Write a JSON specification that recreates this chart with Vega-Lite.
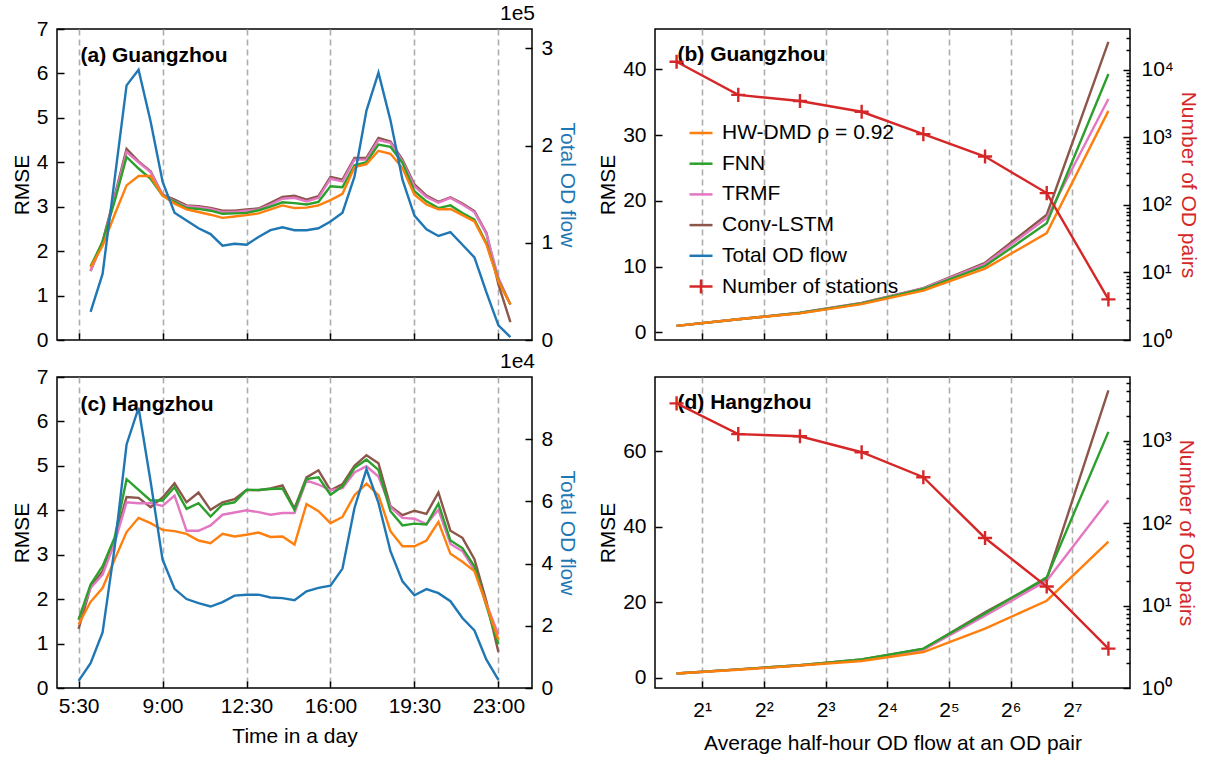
{
  "$schema": "https://vega.github.io/schema/vega-lite/v6.json",
  "background": "white",
  "padding": {"left": 10, "top": 2, "right": 5, "bottom": 5},
  "datasets": {
    "daily": [
      {"city":"GZ","series":"Conv-LSTM","time":6,"rmse":1.55},{"city":"GZ","series":"Conv-LSTM","time":6.5,"rmse":2.22},{"city":"GZ","series":"Conv-LSTM","time":7,"rmse":3.24},{"city":"GZ","series":"Conv-LSTM","time":7.5,"rmse":4.30},{"city":"GZ","series":"Conv-LSTM","time":8,"rmse":4.02},{"city":"GZ","series":"Conv-LSTM","time":8.5,"rmse":3.80},{"city":"GZ","series":"Conv-LSTM","time":9,"rmse":3.27},{"city":"GZ","series":"Conv-LSTM","time":9.5,"rmse":3.16},{"city":"GZ","series":"Conv-LSTM","time":10,"rmse":3.03},{"city":"GZ","series":"Conv-LSTM","time":10.5,"rmse":3.01},{"city":"GZ","series":"Conv-LSTM","time":11,"rmse":2.97},{"city":"GZ","series":"Conv-LSTM","time":11.5,"rmse":2.91},{"city":"GZ","series":"Conv-LSTM","time":12,"rmse":2.91},{"city":"GZ","series":"Conv-LSTM","time":12.5,"rmse":2.94},{"city":"GZ","series":"Conv-LSTM","time":13,"rmse":2.96},{"city":"GZ","series":"Conv-LSTM","time":13.5,"rmse":3.09},{"city":"GZ","series":"Conv-LSTM","time":14,"rmse":3.22},{"city":"GZ","series":"Conv-LSTM","time":14.5,"rmse":3.25},{"city":"GZ","series":"Conv-LSTM","time":15,"rmse":3.16},{"city":"GZ","series":"Conv-LSTM","time":15.5,"rmse":3.24},{"city":"GZ","series":"Conv-LSTM","time":16,"rmse":3.67},{"city":"GZ","series":"Conv-LSTM","time":16.5,"rmse":3.61},{"city":"GZ","series":"Conv-LSTM","time":17,"rmse":4.10},{"city":"GZ","series":"Conv-LSTM","time":17.5,"rmse":4.10},{"city":"GZ","series":"Conv-LSTM","time":18,"rmse":4.55},{"city":"GZ","series":"Conv-LSTM","time":18.5,"rmse":4.47},{"city":"GZ","series":"Conv-LSTM","time":19,"rmse":4.06},{"city":"GZ","series":"Conv-LSTM","time":19.5,"rmse":3.50},{"city":"GZ","series":"Conv-LSTM","time":20,"rmse":3.25},{"city":"GZ","series":"Conv-LSTM","time":20.5,"rmse":3.11},{"city":"GZ","series":"Conv-LSTM","time":21,"rmse":3.21},{"city":"GZ","series":"Conv-LSTM","time":21.5,"rmse":3.07},{"city":"GZ","series":"Conv-LSTM","time":22,"rmse":2.90},{"city":"GZ","series":"Conv-LSTM","time":22.5,"rmse":2.41},{"city":"GZ","series":"Conv-LSTM","time":23,"rmse":1.25},{"city":"GZ","series":"Conv-LSTM","time":23.5,"rmse":0.40},
      {"city":"GZ","series":"TRMF","time":6,"rmse":1.56},{"city":"GZ","series":"TRMF","time":6.5,"rmse":2.18},{"city":"GZ","series":"TRMF","time":7,"rmse":3.20},{"city":"GZ","series":"TRMF","time":7.5,"rmse":4.23},{"city":"GZ","series":"TRMF","time":8,"rmse":4.00},{"city":"GZ","series":"TRMF","time":8.5,"rmse":3.78},{"city":"GZ","series":"TRMF","time":9,"rmse":3.26},{"city":"GZ","series":"TRMF","time":9.5,"rmse":3.12},{"city":"GZ","series":"TRMF","time":10,"rmse":3.01},{"city":"GZ","series":"TRMF","time":10.5,"rmse":2.99},{"city":"GZ","series":"TRMF","time":11,"rmse":2.95},{"city":"GZ","series":"TRMF","time":11.5,"rmse":2.88},{"city":"GZ","series":"TRMF","time":12,"rmse":2.88},{"city":"GZ","series":"TRMF","time":12.5,"rmse":2.91},{"city":"GZ","series":"TRMF","time":13,"rmse":2.94},{"city":"GZ","series":"TRMF","time":13.5,"rmse":3.05},{"city":"GZ","series":"TRMF","time":14,"rmse":3.18},{"city":"GZ","series":"TRMF","time":14.5,"rmse":3.20},{"city":"GZ","series":"TRMF","time":15,"rmse":3.12},{"city":"GZ","series":"TRMF","time":15.5,"rmse":3.20},{"city":"GZ","series":"TRMF","time":16,"rmse":3.63},{"city":"GZ","series":"TRMF","time":16.5,"rmse":3.57},{"city":"GZ","series":"TRMF","time":17,"rmse":4.06},{"city":"GZ","series":"TRMF","time":17.5,"rmse":4.06},{"city":"GZ","series":"TRMF","time":18,"rmse":4.50},{"city":"GZ","series":"TRMF","time":18.5,"rmse":4.44},{"city":"GZ","series":"TRMF","time":19,"rmse":4.02},{"city":"GZ","series":"TRMF","time":19.5,"rmse":3.46},{"city":"GZ","series":"TRMF","time":20,"rmse":3.22},{"city":"GZ","series":"TRMF","time":20.5,"rmse":3.09},{"city":"GZ","series":"TRMF","time":21,"rmse":3.20},{"city":"GZ","series":"TRMF","time":21.5,"rmse":3.05},{"city":"GZ","series":"TRMF","time":22,"rmse":2.88},{"city":"GZ","series":"TRMF","time":22.5,"rmse":2.39},{"city":"GZ","series":"TRMF","time":23,"rmse":1.40},{"city":"GZ","series":"TRMF","time":23.5,"rmse":0.80},
      {"city":"GZ","series":"FNN","time":6,"rmse":1.66},{"city":"GZ","series":"FNN","time":6.5,"rmse":2.21},{"city":"GZ","series":"FNN","time":7,"rmse":3.12},{"city":"GZ","series":"FNN","time":7.5,"rmse":4.12},{"city":"GZ","series":"FNN","time":8,"rmse":3.86},{"city":"GZ","series":"FNN","time":8.5,"rmse":3.63},{"city":"GZ","series":"FNN","time":9,"rmse":3.25},{"city":"GZ","series":"FNN","time":9.5,"rmse":3.11},{"city":"GZ","series":"FNN","time":10,"rmse":2.97},{"city":"GZ","series":"FNN","time":10.5,"rmse":2.95},{"city":"GZ","series":"FNN","time":11,"rmse":2.91},{"city":"GZ","series":"FNN","time":11.5,"rmse":2.84},{"city":"GZ","series":"FNN","time":12,"rmse":2.85},{"city":"GZ","series":"FNN","time":12.5,"rmse":2.86},{"city":"GZ","series":"FNN","time":13,"rmse":2.92},{"city":"GZ","series":"FNN","time":13.5,"rmse":3.00},{"city":"GZ","series":"FNN","time":14,"rmse":3.10},{"city":"GZ","series":"FNN","time":14.5,"rmse":3.08},{"city":"GZ","series":"FNN","time":15,"rmse":3.05},{"city":"GZ","series":"FNN","time":15.5,"rmse":3.11},{"city":"GZ","series":"FNN","time":16,"rmse":3.46},{"city":"GZ","series":"FNN","time":16.5,"rmse":3.44},{"city":"GZ","series":"FNN","time":17,"rmse":3.93},{"city":"GZ","series":"FNN","time":17.5,"rmse":4.00},{"city":"GZ","series":"FNN","time":18,"rmse":4.40},{"city":"GZ","series":"FNN","time":18.5,"rmse":4.35},{"city":"GZ","series":"FNN","time":19,"rmse":3.99},{"city":"GZ","series":"FNN","time":19.5,"rmse":3.35},{"city":"GZ","series":"FNN","time":20,"rmse":3.12},{"city":"GZ","series":"FNN","time":20.5,"rmse":2.97},{"city":"GZ","series":"FNN","time":21,"rmse":3.03},{"city":"GZ","series":"FNN","time":21.5,"rmse":2.86},{"city":"GZ","series":"FNN","time":22,"rmse":2.71},{"city":"GZ","series":"FNN","time":22.5,"rmse":2.18},{"city":"GZ","series":"FNN","time":23,"rmse":1.34},{"city":"GZ","series":"FNN","time":23.5,"rmse":0.80},
      {"city":"GZ","series":"HW-DMD","time":6,"rmse":1.64},{"city":"GZ","series":"HW-DMD","time":6.5,"rmse":2.12},{"city":"GZ","series":"HW-DMD","time":7,"rmse":2.82},{"city":"GZ","series":"HW-DMD","time":7.5,"rmse":3.48},{"city":"GZ","series":"HW-DMD","time":8,"rmse":3.69},{"city":"GZ","series":"HW-DMD","time":8.5,"rmse":3.69},{"city":"GZ","series":"HW-DMD","time":9,"rmse":3.25},{"city":"GZ","series":"HW-DMD","time":9.5,"rmse":3.07},{"city":"GZ","series":"HW-DMD","time":10,"rmse":2.94},{"city":"GZ","series":"HW-DMD","time":10.5,"rmse":2.88},{"city":"GZ","series":"HW-DMD","time":11,"rmse":2.82},{"city":"GZ","series":"HW-DMD","time":11.5,"rmse":2.75},{"city":"GZ","series":"HW-DMD","time":12,"rmse":2.78},{"city":"GZ","series":"HW-DMD","time":12.5,"rmse":2.81},{"city":"GZ","series":"HW-DMD","time":13,"rmse":2.85},{"city":"GZ","series":"HW-DMD","time":13.5,"rmse":2.94},{"city":"GZ","series":"HW-DMD","time":14,"rmse":3.03},{"city":"GZ","series":"HW-DMD","time":14.5,"rmse":2.97},{"city":"GZ","series":"HW-DMD","time":15,"rmse":2.98},{"city":"GZ","series":"HW-DMD","time":15.5,"rmse":3.03},{"city":"GZ","series":"HW-DMD","time":16,"rmse":3.15},{"city":"GZ","series":"HW-DMD","time":16.5,"rmse":3.29},{"city":"GZ","series":"HW-DMD","time":17,"rmse":3.89},{"city":"GZ","series":"HW-DMD","time":17.5,"rmse":3.96},{"city":"GZ","series":"HW-DMD","time":18,"rmse":4.26},{"city":"GZ","series":"HW-DMD","time":18.5,"rmse":4.19},{"city":"GZ","series":"HW-DMD","time":19,"rmse":3.87},{"city":"GZ","series":"HW-DMD","time":19.5,"rmse":3.27},{"city":"GZ","series":"HW-DMD","time":20,"rmse":3.05},{"city":"GZ","series":"HW-DMD","time":20.5,"rmse":2.94},{"city":"GZ","series":"HW-DMD","time":21,"rmse":2.95},{"city":"GZ","series":"HW-DMD","time":21.5,"rmse":2.81},{"city":"GZ","series":"HW-DMD","time":22,"rmse":2.67},{"city":"GZ","series":"HW-DMD","time":22.5,"rmse":2.15},{"city":"GZ","series":"HW-DMD","time":23,"rmse":1.32},{"city":"GZ","series":"HW-DMD","time":23.5,"rmse":0.80},
      {"city":"HZ","series":"Conv-LSTM","time":5.5,"rmse":1.33},{"city":"HZ","series":"Conv-LSTM","time":6,"rmse":2.27},{"city":"HZ","series":"Conv-LSTM","time":6.5,"rmse":2.63},{"city":"HZ","series":"Conv-LSTM","time":7,"rmse":3.34},{"city":"HZ","series":"Conv-LSTM","time":7.5,"rmse":4.30},{"city":"HZ","series":"Conv-LSTM","time":8,"rmse":4.28},{"city":"HZ","series":"Conv-LSTM","time":8.5,"rmse":4.07},{"city":"HZ","series":"Conv-LSTM","time":9,"rmse":4.29},{"city":"HZ","series":"Conv-LSTM","time":9.5,"rmse":4.61},{"city":"HZ","series":"Conv-LSTM","time":10,"rmse":4.18},{"city":"HZ","series":"Conv-LSTM","time":10.5,"rmse":4.40},{"city":"HZ","series":"Conv-LSTM","time":11,"rmse":4.01},{"city":"HZ","series":"Conv-LSTM","time":11.5,"rmse":4.18},{"city":"HZ","series":"Conv-LSTM","time":12,"rmse":4.25},{"city":"HZ","series":"Conv-LSTM","time":12.5,"rmse":4.46},{"city":"HZ","series":"Conv-LSTM","time":13,"rmse":4.45},{"city":"HZ","series":"Conv-LSTM","time":13.5,"rmse":4.49},{"city":"HZ","series":"Conv-LSTM","time":14,"rmse":4.56},{"city":"HZ","series":"Conv-LSTM","time":14.5,"rmse":4.04},{"city":"HZ","series":"Conv-LSTM","time":15,"rmse":4.74},{"city":"HZ","series":"Conv-LSTM","time":15.5,"rmse":4.90},{"city":"HZ","series":"Conv-LSTM","time":16,"rmse":4.45},{"city":"HZ","series":"Conv-LSTM","time":16.5,"rmse":4.59},{"city":"HZ","series":"Conv-LSTM","time":17,"rmse":5.00},{"city":"HZ","series":"Conv-LSTM","time":17.5,"rmse":5.24},{"city":"HZ","series":"Conv-LSTM","time":18,"rmse":5.06},{"city":"HZ","series":"Conv-LSTM","time":18.5,"rmse":4.09},{"city":"HZ","series":"Conv-LSTM","time":19,"rmse":3.89},{"city":"HZ","series":"Conv-LSTM","time":19.5,"rmse":3.99},{"city":"HZ","series":"Conv-LSTM","time":20,"rmse":3.92},{"city":"HZ","series":"Conv-LSTM","time":20.5,"rmse":4.40},{"city":"HZ","series":"Conv-LSTM","time":21,"rmse":3.54},{"city":"HZ","series":"Conv-LSTM","time":21.5,"rmse":3.38},{"city":"HZ","series":"Conv-LSTM","time":22,"rmse":2.90},{"city":"HZ","series":"Conv-LSTM","time":22.5,"rmse":1.95},{"city":"HZ","series":"Conv-LSTM","time":23,"rmse":0.81},
      {"city":"HZ","series":"TRMF","time":5.5,"rmse":1.54},{"city":"HZ","series":"TRMF","time":6,"rmse":2.25},{"city":"HZ","series":"TRMF","time":6.5,"rmse":2.55},{"city":"HZ","series":"TRMF","time":7,"rmse":3.26},{"city":"HZ","series":"TRMF","time":7.5,"rmse":4.18},{"city":"HZ","series":"TRMF","time":8,"rmse":4.16},{"city":"HZ","series":"TRMF","time":8.5,"rmse":4.16},{"city":"HZ","series":"TRMF","time":9,"rmse":4.10},{"city":"HZ","series":"TRMF","time":9.5,"rmse":4.33},{"city":"HZ","series":"TRMF","time":10,"rmse":3.54},{"city":"HZ","series":"TRMF","time":10.5,"rmse":3.54},{"city":"HZ","series":"TRMF","time":11,"rmse":3.66},{"city":"HZ","series":"TRMF","time":11.5,"rmse":3.90},{"city":"HZ","series":"TRMF","time":12,"rmse":3.95},{"city":"HZ","series":"TRMF","time":12.5,"rmse":4.00},{"city":"HZ","series":"TRMF","time":13,"rmse":3.96},{"city":"HZ","series":"TRMF","time":13.5,"rmse":3.90},{"city":"HZ","series":"TRMF","time":14,"rmse":3.94},{"city":"HZ","series":"TRMF","time":14.5,"rmse":3.94},{"city":"HZ","series":"TRMF","time":15,"rmse":4.67},{"city":"HZ","series":"TRMF","time":15.5,"rmse":4.58},{"city":"HZ","series":"TRMF","time":16,"rmse":4.45},{"city":"HZ","series":"TRMF","time":16.5,"rmse":4.50},{"city":"HZ","series":"TRMF","time":17,"rmse":4.85},{"city":"HZ","series":"TRMF","time":17.5,"rmse":4.99},{"city":"HZ","series":"TRMF","time":18,"rmse":4.76},{"city":"HZ","series":"TRMF","time":18.5,"rmse":4.07},{"city":"HZ","series":"TRMF","time":19,"rmse":3.83},{"city":"HZ","series":"TRMF","time":19.5,"rmse":3.81},{"city":"HZ","series":"TRMF","time":20,"rmse":3.69},{"city":"HZ","series":"TRMF","time":20.5,"rmse":4.01},{"city":"HZ","series":"TRMF","time":21,"rmse":3.24},{"city":"HZ","series":"TRMF","time":21.5,"rmse":3.08},{"city":"HZ","series":"TRMF","time":22,"rmse":2.66},{"city":"HZ","series":"TRMF","time":22.5,"rmse":1.90},{"city":"HZ","series":"TRMF","time":23,"rmse":1.20},
      {"city":"HZ","series":"FNN","time":5.5,"rmse":1.54},{"city":"HZ","series":"FNN","time":6,"rmse":2.33},{"city":"HZ","series":"FNN","time":6.5,"rmse":2.74},{"city":"HZ","series":"FNN","time":7,"rmse":3.38},{"city":"HZ","series":"FNN","time":7.5,"rmse":4.70},{"city":"HZ","series":"FNN","time":8,"rmse":4.46},{"city":"HZ","series":"FNN","time":8.5,"rmse":4.22},{"city":"HZ","series":"FNN","time":9,"rmse":4.22},{"city":"HZ","series":"FNN","time":9.5,"rmse":4.52},{"city":"HZ","series":"FNN","time":10,"rmse":4.03},{"city":"HZ","series":"FNN","time":10.5,"rmse":4.16},{"city":"HZ","series":"FNN","time":11,"rmse":3.86},{"city":"HZ","series":"FNN","time":11.5,"rmse":4.13},{"city":"HZ","series":"FNN","time":12,"rmse":4.18},{"city":"HZ","series":"FNN","time":12.5,"rmse":4.46},{"city":"HZ","series":"FNN","time":13,"rmse":4.46},{"city":"HZ","series":"FNN","time":13.5,"rmse":4.48},{"city":"HZ","series":"FNN","time":14,"rmse":4.49},{"city":"HZ","series":"FNN","time":14.5,"rmse":4.01},{"city":"HZ","series":"FNN","time":15,"rmse":4.70},{"city":"HZ","series":"FNN","time":15.5,"rmse":4.74},{"city":"HZ","series":"FNN","time":16,"rmse":4.35},{"city":"HZ","series":"FNN","time":16.5,"rmse":4.54},{"city":"HZ","series":"FNN","time":17,"rmse":4.95},{"city":"HZ","series":"FNN","time":17.5,"rmse":5.14},{"city":"HZ","series":"FNN","time":18,"rmse":4.91},{"city":"HZ","series":"FNN","time":18.5,"rmse":3.98},{"city":"HZ","series":"FNN","time":19,"rmse":3.66},{"city":"HZ","series":"FNN","time":19.5,"rmse":3.70},{"city":"HZ","series":"FNN","time":20,"rmse":3.68},{"city":"HZ","series":"FNN","time":20.5,"rmse":4.15},{"city":"HZ","series":"FNN","time":21,"rmse":3.32},{"city":"HZ","series":"FNN","time":21.5,"rmse":3.15},{"city":"HZ","series":"FNN","time":22,"rmse":2.74},{"city":"HZ","series":"FNN","time":22.5,"rmse":1.85},{"city":"HZ","series":"FNN","time":23,"rmse":0.98},
      {"city":"HZ","series":"HW-DMD","time":5.5,"rmse":1.43},{"city":"HZ","series":"HW-DMD","time":6,"rmse":1.94},{"city":"HZ","series":"HW-DMD","time":6.5,"rmse":2.25},{"city":"HZ","series":"HW-DMD","time":7,"rmse":2.89},{"city":"HZ","series":"HW-DMD","time":7.5,"rmse":3.51},{"city":"HZ","series":"HW-DMD","time":8,"rmse":3.83},{"city":"HZ","series":"HW-DMD","time":8.5,"rmse":3.71},{"city":"HZ","series":"HW-DMD","time":9,"rmse":3.56},{"city":"HZ","series":"HW-DMD","time":9.5,"rmse":3.53},{"city":"HZ","series":"HW-DMD","time":10,"rmse":3.47},{"city":"HZ","series":"HW-DMD","time":10.5,"rmse":3.32},{"city":"HZ","series":"HW-DMD","time":11,"rmse":3.26},{"city":"HZ","series":"HW-DMD","time":11.5,"rmse":3.47},{"city":"HZ","series":"HW-DMD","time":12,"rmse":3.41},{"city":"HZ","series":"HW-DMD","time":12.5,"rmse":3.45},{"city":"HZ","series":"HW-DMD","time":13,"rmse":3.50},{"city":"HZ","series":"HW-DMD","time":13.5,"rmse":3.40},{"city":"HZ","series":"HW-DMD","time":14,"rmse":3.41},{"city":"HZ","series":"HW-DMD","time":14.5,"rmse":3.23},{"city":"HZ","series":"HW-DMD","time":15,"rmse":4.14},{"city":"HZ","series":"HW-DMD","time":15.5,"rmse":3.98},{"city":"HZ","series":"HW-DMD","time":16,"rmse":3.71},{"city":"HZ","series":"HW-DMD","time":16.5,"rmse":3.85},{"city":"HZ","series":"HW-DMD","time":17,"rmse":4.34},{"city":"HZ","series":"HW-DMD","time":17.5,"rmse":4.60},{"city":"HZ","series":"HW-DMD","time":18,"rmse":4.34},{"city":"HZ","series":"HW-DMD","time":18.5,"rmse":3.53},{"city":"HZ","series":"HW-DMD","time":19,"rmse":3.19},{"city":"HZ","series":"HW-DMD","time":19.5,"rmse":3.19},{"city":"HZ","series":"HW-DMD","time":20,"rmse":3.32},{"city":"HZ","series":"HW-DMD","time":20.5,"rmse":3.74},{"city":"HZ","series":"HW-DMD","time":21,"rmse":3.02},{"city":"HZ","series":"HW-DMD","time":21.5,"rmse":2.84},{"city":"HZ","series":"HW-DMD","time":22,"rmse":2.63},{"city":"HZ","series":"HW-DMD","time":22.5,"rmse":1.88},{"city":"HZ","series":"HW-DMD","time":23,"rmse":1.09}
    ],
    "flow": [
      {"city":"GZ","series":"Total OD flow","time":6,"flow":29000},{"city":"GZ","series":"Total OD flow","time":6.5,"flow":68000},{"city":"GZ","series":"Total OD flow","time":7,"flow":165000},{"city":"GZ","series":"Total OD flow","time":7.5,"flow":262000},{"city":"GZ","series":"Total OD flow","time":8,"flow":278000},{"city":"GZ","series":"Total OD flow","time":8.5,"flow":225000},{"city":"GZ","series":"Total OD flow","time":9,"flow":163000},{"city":"GZ","series":"Total OD flow","time":9.5,"flow":131000},{"city":"GZ","series":"Total OD flow","time":10,"flow":123000},{"city":"GZ","series":"Total OD flow","time":10.5,"flow":115000},{"city":"GZ","series":"Total OD flow","time":11,"flow":109000},{"city":"GZ","series":"Total OD flow","time":11.5,"flow":97000},{"city":"GZ","series":"Total OD flow","time":12,"flow":99000},{"city":"GZ","series":"Total OD flow","time":12.5,"flow":98000},{"city":"GZ","series":"Total OD flow","time":13,"flow":106000},{"city":"GZ","series":"Total OD flow","time":13.5,"flow":113000},{"city":"GZ","series":"Total OD flow","time":14,"flow":116000},{"city":"GZ","series":"Total OD flow","time":14.5,"flow":113000},{"city":"GZ","series":"Total OD flow","time":15,"flow":113000},{"city":"GZ","series":"Total OD flow","time":15.5,"flow":115000},{"city":"GZ","series":"Total OD flow","time":16,"flow":122000},{"city":"GZ","series":"Total OD flow","time":16.5,"flow":131000},{"city":"GZ","series":"Total OD flow","time":17,"flow":168000},{"city":"GZ","series":"Total OD flow","time":17.5,"flow":236000},{"city":"GZ","series":"Total OD flow","time":18,"flow":275000},{"city":"GZ","series":"Total OD flow","time":18.5,"flow":226000},{"city":"GZ","series":"Total OD flow","time":19,"flow":165000},{"city":"GZ","series":"Total OD flow","time":19.5,"flow":128000},{"city":"GZ","series":"Total OD flow","time":20,"flow":114000},{"city":"GZ","series":"Total OD flow","time":20.5,"flow":107000},{"city":"GZ","series":"Total OD flow","time":21,"flow":111000},{"city":"GZ","series":"Total OD flow","time":21.5,"flow":98000},{"city":"GZ","series":"Total OD flow","time":22,"flow":85000},{"city":"GZ","series":"Total OD flow","time":22.5,"flow":49000},{"city":"GZ","series":"Total OD flow","time":23,"flow":15000},{"city":"GZ","series":"Total OD flow","time":23.5,"flow":3000},
      {"city":"HZ","series":"Total OD flow","time":5.5,"flow":2300},{"city":"HZ","series":"Total OD flow","time":6,"flow":8000},{"city":"HZ","series":"Total OD flow","time":6.5,"flow":17900},{"city":"HZ","series":"Total OD flow","time":7,"flow":45000},{"city":"HZ","series":"Total OD flow","time":7.5,"flow":78300},{"city":"HZ","series":"Total OD flow","time":8,"flow":90100},{"city":"HZ","series":"Total OD flow","time":8.5,"flow":66500},{"city":"HZ","series":"Total OD flow","time":9,"flow":41300},{"city":"HZ","series":"Total OD flow","time":9.5,"flow":31900},{"city":"HZ","series":"Total OD flow","time":10,"flow":28600},{"city":"HZ","series":"Total OD flow","time":10.5,"flow":27300},{"city":"HZ","series":"Total OD flow","time":11,"flow":26200},{"city":"HZ","series":"Total OD flow","time":11.5,"flow":27600},{"city":"HZ","series":"Total OD flow","time":12,"flow":29700},{"city":"HZ","series":"Total OD flow","time":12.5,"flow":30000},{"city":"HZ","series":"Total OD flow","time":13,"flow":30000},{"city":"HZ","series":"Total OD flow","time":13.5,"flow":29100},{"city":"HZ","series":"Total OD flow","time":14,"flow":28900},{"city":"HZ","series":"Total OD flow","time":14.5,"flow":28200},{"city":"HZ","series":"Total OD flow","time":15,"flow":31100},{"city":"HZ","series":"Total OD flow","time":15.5,"flow":32200},{"city":"HZ","series":"Total OD flow","time":16,"flow":32900},{"city":"HZ","series":"Total OD flow","time":16.5,"flow":38400},{"city":"HZ","series":"Total OD flow","time":17,"flow":57900},{"city":"HZ","series":"Total OD flow","time":17.5,"flow":70300},{"city":"HZ","series":"Total OD flow","time":18,"flow":59500},{"city":"HZ","series":"Total OD flow","time":18.5,"flow":44000},{"city":"HZ","series":"Total OD flow","time":19,"flow":34300},{"city":"HZ","series":"Total OD flow","time":19.5,"flow":29800},{"city":"HZ","series":"Total OD flow","time":20,"flow":31800},{"city":"HZ","series":"Total OD flow","time":20.5,"flow":30500},{"city":"HZ","series":"Total OD flow","time":21,"flow":27900},{"city":"HZ","series":"Total OD flow","time":21.5,"flow":22500},{"city":"HZ","series":"Total OD flow","time":22,"flow":18500},{"city":"HZ","series":"Total OD flow","time":22.5,"flow":9100},{"city":"HZ","series":"Total OD flow","time":23,"flow":2600}
    ],
    "bins": [
      {"city":"GZ","series":"Conv-LSTM","avgFlow":1.5,"rmse":1.0},{"city":"GZ","series":"Conv-LSTM","avgFlow":3,"rmse":2.0},{"city":"GZ","series":"Conv-LSTM","avgFlow":6,"rmse":3.0},{"city":"GZ","series":"Conv-LSTM","avgFlow":12,"rmse":4.5},{"city":"GZ","series":"Conv-LSTM","avgFlow":24,"rmse":6.75},{"city":"GZ","series":"Conv-LSTM","avgFlow":48,"rmse":10.6},{"city":"GZ","series":"Conv-LSTM","avgFlow":96,"rmse":17.9},{"city":"GZ","series":"Conv-LSTM","avgFlow":192,"rmse":44.2},
      {"city":"GZ","series":"TRMF","avgFlow":1.5,"rmse":1.0},{"city":"GZ","series":"TRMF","avgFlow":3,"rmse":2.0},{"city":"GZ","series":"TRMF","avgFlow":6,"rmse":2.95},{"city":"GZ","series":"TRMF","avgFlow":12,"rmse":4.45},{"city":"GZ","series":"TRMF","avgFlow":24,"rmse":6.7},{"city":"GZ","series":"TRMF","avgFlow":48,"rmse":10.4},{"city":"GZ","series":"TRMF","avgFlow":96,"rmse":17.4},{"city":"GZ","series":"TRMF","avgFlow":192,"rmse":35.5},
      {"city":"GZ","series":"FNN","avgFlow":1.5,"rmse":1.0},{"city":"GZ","series":"FNN","avgFlow":3,"rmse":2.0},{"city":"GZ","series":"FNN","avgFlow":6,"rmse":2.95},{"city":"GZ","series":"FNN","avgFlow":12,"rmse":4.4},{"city":"GZ","series":"FNN","avgFlow":24,"rmse":6.6},{"city":"GZ","series":"FNN","avgFlow":48,"rmse":10.1},{"city":"GZ","series":"FNN","avgFlow":96,"rmse":16.6},{"city":"GZ","series":"FNN","avgFlow":192,"rmse":39.3},
      {"city":"GZ","series":"HW-DMD","avgFlow":1.5,"rmse":1.0},{"city":"GZ","series":"HW-DMD","avgFlow":3,"rmse":2.0},{"city":"GZ","series":"HW-DMD","avgFlow":6,"rmse":2.9},{"city":"GZ","series":"HW-DMD","avgFlow":12,"rmse":4.3},{"city":"GZ","series":"HW-DMD","avgFlow":24,"rmse":6.35},{"city":"GZ","series":"HW-DMD","avgFlow":48,"rmse":9.7},{"city":"GZ","series":"HW-DMD","avgFlow":96,"rmse":15.1},{"city":"GZ","series":"HW-DMD","avgFlow":192,"rmse":33.7},
      {"city":"HZ","series":"Conv-LSTM","avgFlow":1.5,"rmse":1.1},{"city":"HZ","series":"Conv-LSTM","avgFlow":3,"rmse":2.2},{"city":"HZ","series":"Conv-LSTM","avgFlow":6,"rmse":3.3},{"city":"HZ","series":"Conv-LSTM","avgFlow":12,"rmse":4.8},{"city":"HZ","series":"Conv-LSTM","avgFlow":24,"rmse":7.6},{"city":"HZ","series":"Conv-LSTM","avgFlow":48,"rmse":17.3},{"city":"HZ","series":"Conv-LSTM","avgFlow":96,"rmse":26.2},{"city":"HZ","series":"Conv-LSTM","avgFlow":192,"rmse":76.2},
      {"city":"HZ","series":"TRMF","avgFlow":1.5,"rmse":1.1},{"city":"HZ","series":"TRMF","avgFlow":3,"rmse":2.2},{"city":"HZ","series":"TRMF","avgFlow":6,"rmse":3.3},{"city":"HZ","series":"TRMF","avgFlow":12,"rmse":4.7},{"city":"HZ","series":"TRMF","avgFlow":24,"rmse":7.4},{"city":"HZ","series":"TRMF","avgFlow":48,"rmse":16.4},{"city":"HZ","series":"TRMF","avgFlow":96,"rmse":25.7},{"city":"HZ","series":"TRMF","avgFlow":192,"rmse":47.0},
      {"city":"HZ","series":"FNN","avgFlow":1.5,"rmse":1.1},{"city":"HZ","series":"FNN","avgFlow":3,"rmse":2.2},{"city":"HZ","series":"FNN","avgFlow":6,"rmse":3.3},{"city":"HZ","series":"FNN","avgFlow":12,"rmse":4.8},{"city":"HZ","series":"FNN","avgFlow":24,"rmse":7.7},{"city":"HZ","series":"FNN","avgFlow":48,"rmse":17.0},{"city":"HZ","series":"FNN","avgFlow":96,"rmse":26.6},{"city":"HZ","series":"FNN","avgFlow":192,"rmse":65.2},
      {"city":"HZ","series":"HW-DMD","avgFlow":1.5,"rmse":1.1},{"city":"HZ","series":"HW-DMD","avgFlow":3,"rmse":2.1},{"city":"HZ","series":"HW-DMD","avgFlow":6,"rmse":3.2},{"city":"HZ","series":"HW-DMD","avgFlow":12,"rmse":4.4},{"city":"HZ","series":"HW-DMD","avgFlow":24,"rmse":6.8},{"city":"HZ","series":"HW-DMD","avgFlow":48,"rmse":13.0},{"city":"HZ","series":"HW-DMD","avgFlow":96,"rmse":20.4},{"city":"HZ","series":"HW-DMD","avgFlow":192,"rmse":36.1}
    ],
    "pairs": [
      {"city":"GZ","series":"Number of stations","avgFlow":1.5,"pairs":13200},{"city":"GZ","series":"Number of stations","avgFlow":3,"pairs":4270},{"city":"GZ","series":"Number of stations","avgFlow":6,"pairs":3470},{"city":"GZ","series":"Number of stations","avgFlow":12,"pairs":2400},{"city":"GZ","series":"Number of stations","avgFlow":24,"pairs":1120},{"city":"GZ","series":"Number of stations","avgFlow":48,"pairs":522},{"city":"GZ","series":"Number of stations","avgFlow":96,"pairs":150},{"city":"GZ","series":"Number of stations","avgFlow":192,"pairs":4},
      {"city":"HZ","series":"Number of stations","avgFlow":1.5,"pairs":2830},{"city":"HZ","series":"Number of stations","avgFlow":3,"pairs":1200},{"city":"HZ","series":"Number of stations","avgFlow":6,"pairs":1130},{"city":"HZ","series":"Number of stations","avgFlow":12,"pairs":724},{"city":"HZ","series":"Number of stations","avgFlow":24,"pairs":360},{"city":"HZ","series":"Number of stations","avgFlow":48,"pairs":66},{"city":"HZ","series":"Number of stations","avgFlow":96,"pairs":17},{"city":"HZ","series":"Number of stations","avgFlow":192,"pairs":3}
    ]
  },
  "columns": 2,
  "spacing": {"row": 37, "column": 123},
  "bounds": "flush",
  "resolve": {"scale": {"color": "shared"}, "legend": {"color": "shared"}},
  "concat": [
    {
      "width": 475, "height": 311,
      "title": {"text": "1e5", "anchor": "end", "frame": "group", "dx": 3, "offset": -6},
      "layer": [
        {
          "data": {"name": "daily"},
          "transform": [{"filter": "datum.city === 'GZ'"}],
          "mark": {"type": "line", "strokeWidth": 2.4},
          "encoding": {
            "x": {"field": "time", "type": "quantitative", "scale": {"domain": [4.6, 24.4], "nice": false, "zero": false},
                  "axis": {"values": [5.5, 9, 12.5, 16, 19.5, 23], "labels": false, "title": null, "grid": true, "gridDash": [6, 4], "gridColor": "#adadad", "gridWidth": 1.6}},
            "y": {"field": "rmse", "type": "quantitative", "scale": {"domain": [0, 7], "nice": false}, "axis": {"values": [0, 1, 2, 3, 4, 5, 6, 7], "title": "RMSE"}},
            "color": {"field": "series", "type": "nominal",
              "scale": {"domain": ["HW-DMD", "FNN", "TRMF", "Conv-LSTM", "Total OD flow", "Number of stations"], "range": ["#ff7f0e", "#2ca02c", "#e377c2", "#8c564b", "#1f77b4", "#d62728"]},
              "legend": {"orient": "none", "legendX": 631, "legendY": 91, "title": null, "padding": 0, "labelFontSize": 21, "labelFont": "Liberation Sans", "labelColor": "#000", "labelLimit": 400, "symbolType": "stroke", "symbolSize": 529, "symbolStrokeWidth": 2.5, "rowPadding": 7.7, "labelOffset": 8,
                "labelExpr": "datum.label === 'HW-DMD' ? 'HW-DMD ρ = 0.92' : datum.label",
                "encode": {"symbols": {"update": {"shape": {"signal": "datum.value === 'Number of stations' ? 'M-1,0L1,0M0,-0.6L0,0.6' : 'stroke'"}, "fill": {"value": "transparent"}}}}}}
          }
        },
        {
          "data": {"name": "flow"},
          "transform": [{"filter": "datum.city === 'GZ'"}],
          "mark": {"type": "line", "strokeWidth": 2.4},
          "encoding": {
            "x": {"field": "time", "type": "quantitative", "axis": {"orient": "top", "labels": false, "ticks": false, "grid": false, "title": "(a) Guangzhou", "titleFontWeight": "bold", "titleAngle": 0, "titleAlign": "left", "titleBaseline": "alphabetic", "titleX": 23, "titleY": 32}},
            "y": {"field": "flow", "type": "quantitative", "scale": {"domain": [0, 320000], "nice": false}, "axis": {"orient": "right", "values": [0, 100000, 200000, 300000], "labelExpr": "datum.value / 100000", "title": "Total OD flow", "titleColor": "#1f77b4"}},
            "color": {"field": "series", "type": "nominal"}
          }
        }
      ],
      "resolve": {"scale": {"y": "independent"}, "axis": {"x": "independent"}}
    },
    {
      "width": 475, "height": 311,
      "layer": [
        {
          "data": {"name": "bins"},
          "transform": [{"filter": "datum.city === 'GZ'"}],
          "mark": {"type": "line", "strokeWidth": 2.4},
          "encoding": {
            "x": {"field": "avgFlow", "type": "quantitative", "scale": {"type": "log", "base": 2, "domain": [1.177, 244.7], "nice": false},
                  "axis": {"values": [2, 4, 8, 16, 32, 64, 128], "labels": false, "title": null, "grid": true, "gridDash": [6, 4], "gridColor": "#adadad", "gridWidth": 1.6}},
            "y": {"field": "rmse", "type": "quantitative", "scale": {"domain": [-1.15, 46.15], "nice": false, "zero": false}, "axis": {"values": [0, 10, 20, 30, 40], "title": "RMSE"}},
            "color": {"field": "series", "type": "nominal"}
          }
        },
        {
          "data": {"name": "pairs"},
          "transform": [{"filter": "datum.city === 'GZ'"}],
          "mark": {"type": "line", "strokeWidth": 2.4, "point": {"shape": "M-1,0L1,0M0,-1L0,1", "filled": false, "size": 200, "strokeWidth": 2.4}},
          "encoding": {
            "x": {"field": "avgFlow", "type": "quantitative", "axis": {"orient": "top", "labels": false, "ticks": false, "grid": false, "title": "(b) Guangzhou", "titleFontWeight": "bold", "titleAngle": 0, "titleAlign": "left", "titleBaseline": "alphabetic", "titleX": 22, "titleY": 31}},
            "y": {"field": "pairs", "type": "quantitative", "scale": {"type": "log", "domain": [1, 40400], "nice": false},
                  "axis": {"orient": "right", "values": [1,2,3,4,5,6,7,8,9,10,20,30,40,50,60,70,80,90,100,200,300,400,500,600,700,800,900,1000,2000,3000,4000,5000,6000,7000,8000,9000,10000,20000,30000],
                           "labelExpr": "datum.value === 1 ? '10⁰' : datum.value === 10 ? '10¹' : datum.value === 100 ? '10²' : datum.value === 1000 ? '10³' : datum.value === 10000 ? '10⁴' : ''",
                           "tickSize": {"condition": {"test": "indexof([1,10,100,1000,10000], datum.value) >= 0", "value": -7}, "value": -4},
                           "labelPadding": 18,
                           "title": "Number of OD pairs", "titleColor": "#d62728"}},
            "color": {"field": "series", "type": "nominal"}
          }
        }
      ],
      "resolve": {"scale": {"y": "independent"}, "axis": {"x": "independent"}}
    },
    {
      "width": 475, "height": 311,
      "title": {"text": "1e4", "anchor": "end", "frame": "group", "dx": 3, "offset": -6},
      "layer": [
        {
          "data": {"name": "daily"},
          "transform": [{"filter": "datum.city === 'HZ'"}],
          "mark": {"type": "line", "strokeWidth": 2.4},
          "encoding": {
            "x": {"field": "time", "type": "quantitative", "scale": {"domain": [4.6, 24.4], "nice": false, "zero": false},
                  "axis": {"values": [5.5, 9, 12.5, 16, 19.5, 23], "labelExpr": "floor(datum.value) + ':' + (datum.value % 1 ? '30' : '00')", "title": "Time in a day", "titlePadding": 9, "grid": true, "gridDash": [6, 4], "gridColor": "#adadad", "gridWidth": 1.6}},
            "y": {"field": "rmse", "type": "quantitative", "scale": {"domain": [0, 7], "nice": false}, "axis": {"values": [0, 1, 2, 3, 4, 5, 6, 7], "title": "RMSE"}},
            "color": {"field": "series", "type": "nominal"}
          }
        },
        {
          "data": {"name": "flow"},
          "transform": [{"filter": "datum.city === 'HZ'"}],
          "mark": {"type": "line", "strokeWidth": 2.4},
          "encoding": {
            "x": {"field": "time", "type": "quantitative", "axis": {"orient": "top", "labels": false, "ticks": false, "grid": false, "title": "(c) Hangzhou", "titleFontWeight": "bold", "titleAngle": 0, "titleAlign": "left", "titleBaseline": "alphabetic", "titleX": 23, "titleY": 33}},
            "y": {"field": "flow", "type": "quantitative", "scale": {"domain": [0, 100000], "nice": false}, "axis": {"orient": "right", "values": [0, 20000, 40000, 60000, 80000], "labelExpr": "datum.value / 10000", "title": "Total OD flow", "titleColor": "#1f77b4"}},
            "color": {"field": "series", "type": "nominal"}
          }
        }
      ],
      "resolve": {"scale": {"y": "independent"}, "axis": {"x": "independent"}}
    },
    {
      "width": 475, "height": 311,
      "layer": [
        {
          "data": {"name": "bins"},
          "transform": [{"filter": "datum.city === 'HZ'"}],
          "mark": {"type": "line", "strokeWidth": 2.4},
          "encoding": {
            "x": {"field": "avgFlow", "type": "quantitative", "scale": {"type": "log", "base": 2, "domain": [1.177, 244.7], "nice": false},
                  "axis": {"values": [2, 4, 8, 16, 32, 64, 128], "labelExpr": "'2' + ['¹','²','³','⁴','⁵','⁶','⁷'][round(log(datum.value) / LN2) - 1]", "labelPadding": 18, "title": "Average half-hour OD flow at an OD pair", "titlePadding": 12, "grid": true, "gridDash": [6, 4], "gridColor": "#adadad", "gridWidth": 1.6}},
            "y": {"field": "rmse", "type": "quantitative", "scale": {"domain": [-2.75, 79.75], "nice": false, "zero": false}, "axis": {"values": [0, 20, 40, 60], "title": "RMSE"}},
            "color": {"field": "series", "type": "nominal"}
          }
        },
        {
          "data": {"name": "pairs"},
          "transform": [{"filter": "datum.city === 'HZ'"}],
          "mark": {"type": "line", "strokeWidth": 2.4, "point": {"shape": "M-1,0L1,0M0,-1L0,1", "filled": false, "size": 200, "strokeWidth": 2.4}},
          "encoding": {
            "x": {"field": "avgFlow", "type": "quantitative", "axis": {"orient": "top", "labels": false, "ticks": false, "grid": false, "title": "(d) Hangzhou", "titleFontWeight": "bold", "titleAngle": 0, "titleAlign": "left", "titleBaseline": "alphabetic", "titleX": 22, "titleY": 31}},
            "y": {"field": "pairs", "type": "quantitative", "scale": {"type": "log", "domain": [1, 5916], "nice": false},
                  "axis": {"orient": "right", "values": [1,2,3,4,5,6,7,8,9,10,20,30,40,50,60,70,80,90,100,200,300,400,500,600,700,800,900,1000,2000,3000,4000,5000],
                           "labelExpr": "datum.value === 1 ? '10⁰' : datum.value === 10 ? '10¹' : datum.value === 100 ? '10²' : datum.value === 1000 ? '10³' : ''",
                           "tickSize": {"condition": {"test": "indexof([1,10,100,1000], datum.value) >= 0", "value": -7}, "value": -4},
                           "labelPadding": 18,
                           "title": "Number of OD pairs", "titleColor": "#d62728"}},
            "color": {"field": "series", "type": "nominal"}
          }
        }
      ],
      "resolve": {"scale": {"y": "independent"}, "axis": {"x": "independent"}}
    }
  ],
  "config": {
    "font": "Liberation Sans",
    "view": {"stroke": "#000000", "strokeWidth": 1.5},
    "axis": {"labelFont": "Liberation Sans", "titleFont": "Liberation Sans", "labelFontSize": 21, "titleFontSize": 21, "titleFontWeight": "normal", "labelColor": "#000000", "titleColor": "#000000", "domain": false, "tickColor": "#000000", "tickWidth": 1.5, "tickSize": -7, "labelPadding": 16, "grid": false, "labelOverlap": false, "titlePadding": 4},
    "axisX": {"labelPadding": 14},
    "title": {"font": "Liberation Sans", "fontSize": 21, "fontWeight": "normal", "color": "#000000", "baseline": "alphabetic"}
  }
}
